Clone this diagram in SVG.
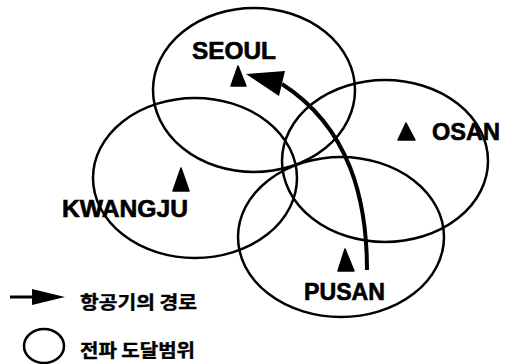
<svg xmlns="http://www.w3.org/2000/svg" width="506" height="364" viewBox="0 0 506 364">
<style>
.rng{fill:none;stroke:#000;stroke-width:2.5}
.mk{fill:#000;stroke:#000;stroke-width:1.5;stroke-linejoin:round}
.lbl{font-family:"Liberation Sans",Arial,sans-serif;font-weight:bold;font-size:23px;fill:#000;stroke:#000;stroke-width:0.6}
.kr{font-family:"Noto Sans CJK KR","Noto Sans",sans-serif;font-weight:bold;font-size:18px;fill:#000;stroke:#000;stroke-width:0.4}
</style>
<rect width="506" height="364" fill="#fff"/>
<g id="seoul">
<ellipse class="rng" cx="254" cy="90" rx="101" ry="82"/>
<polygon class="mk" points="238,66 231,86 246,86"/>
<text class="lbl" x="192" y="59" textLength="84" lengthAdjust="spacingAndGlyphs">SEOUL</text>
</g>
<g id="kwangju">
<ellipse class="rng" cx="195" cy="178" rx="102" ry="80"/>
<polygon class="mk" points="181,168 173,191 189,191"/>
<text class="lbl" x="62" y="217" textLength="126" lengthAdjust="spacingAndGlyphs">KWANGJU</text>
</g>
<g id="osan">
<ellipse class="rng" cx="385" cy="161" rx="103" ry="81"/>
<polygon class="mk" points="406,123 398,140 415,140"/>
<text class="lbl" x="432" y="140" textLength="68" lengthAdjust="spacingAndGlyphs">OSAN</text>
</g>
<g id="pusan">
<ellipse class="rng" cx="341" cy="237" rx="103" ry="80"/>
<polygon class="mk" points="345,249 338,271 354,271"/>
<text class="lbl" x="304" y="300" textLength="81" lengthAdjust="spacingAndGlyphs">PUSAN</text>
</g>
<g id="connectors">
<path d="M367,270 C367,200 350,128 282,84" fill="none" stroke="#000" stroke-width="4"/>
<polygon points="246,74 285,71 279,96" fill="#000"/>
</g>
<g id="legend">
<line x1="10" y1="297" x2="38" y2="297" stroke="#000" stroke-width="3"/>
<polygon points="32,289 65,297 32,305" fill="#000"/>
<text class="kr" x="80" y="309" textLength="117" lengthAdjust="spacingAndGlyphs">항공기의 경로</text>
<ellipse class="rng" cx="44" cy="346" rx="20" ry="17"/>
<text class="kr" x="80" y="357" textLength="115" lengthAdjust="spacingAndGlyphs">전파 도달범위</text>
</g>
</svg>
